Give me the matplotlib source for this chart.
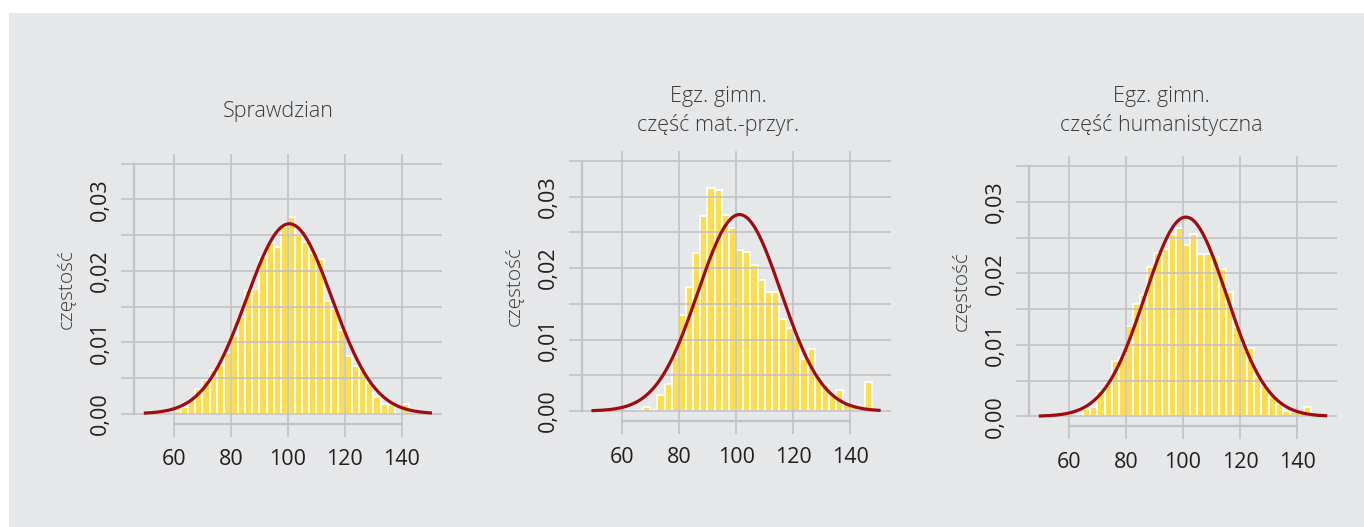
import numpy as np
import matplotlib
matplotlib.use("Agg")
import matplotlib.pyplot as plt
from matplotlib.patches import Rectangle
from matplotlib.ticker import MultipleLocator, FuncFormatter

plt.rcParams['font.family'] = ['Open Sans', 'DejaVu Sans']

# dane (gęstość w przedziałach co 2,5 pkt)
bin_width = 2.5

tytuly = ["Sprawdzian", "Egz. gimn.\nczęść mat.-przyr.", "Egz. gimn.\nczęść humanistyczna"]

start_spr = 60.0
dens_spr = [0.0004, 0.0010, 0.0021, 0.0035, 0.0047, 0.0061, 0.0068, 0.0085,
            0.0109, 0.0136, 0.0173, 0.0174, 0.0219, 0.0239, 0.0233, 0.0261,
            0.0276, 0.0250, 0.0241, 0.0225, 0.0216, 0.0158, 0.0146, 0.0117,
            0.0081, 0.0067, 0.0060, 0.0043, 0.0024, 0.0014, 0.0013, 0.0,
            0.0014]

start_mat = 65.0
dens_mat = [0.0002, 0.0005, 0.0002, 0.0022, 0.0038, 0.0076, 0.0134, 0.0174,
            0.0221, 0.0273, 0.0313, 0.0309, 0.0274, 0.0256, 0.0225, 0.0223,
            0.0205, 0.0183, 0.0167, 0.0167, 0.0129, 0.0116, 0.0099, 0.0073,
            0.0087, 0.0049, 0.0037, 0.0022, 0.0029, 0.0013, 0.0005, 0.0003,
            0.0040]

start_hum = 62.5
dens_hum = [0.0002, 0.0010, 0.0013, 0.0035, 0.0047, 0.0077, 0.0083, 0.0127,
            0.0157, 0.0170, 0.0209, 0.0229, 0.0235, 0.0255, 0.0264, 0.0240,
            0.0256, 0.0228, 0.0227, 0.0223, 0.0207, 0.0174, 0.0125, 0.0103,
            0.0096, 0.0055, 0.0042, 0.0028, 0.0017, 0.0007, 0.0006, 0.0006,
            0.0013]

# parametry krzywej normalnej (średnia, odchylenie)
srednie = [100.5, 101.2, 101.0]
odchylenia = [15.0, 14.5, 14.3]

starty = [start_spr, start_mat, start_hum]
gestosci = [dens_spr, dens_mat, dens_hum]

x_ticks = [60, 80, 100, 120, 140]

bg = '#e6e7e9'
grid_col = '#c1c2c4'
bar_col = '#ffdd4d'
line_col = '#a00b10'
txt = '#231f20'

fig = plt.figure(figsize=(13.64, 5.27), dpi=100, facecolor='white')
tlo = Rectangle((9 / 1364, 0), 1 - 9 / 1364, 514 / 527,
                transform=fig.transFigure, facecolor=bg,
                edgecolor='none', zorder=-10)
fig.add_artist(tlo)

pozycje = [
    [134 / 1364, (527 - 423.7) / 527, 307.8 / 1364, 269.9 / 527],
    [581.6 / 1364, (527 - 421.0) / 527, 308.9 / 1364, 269.9 / 527],
    [1029 / 1364, (527 - 426.3) / 527, 308.0 / 1364, 269.9 / 527],
]
title_x = [278, 718, 1161]
title_y = [112, 111, 111]

fmt = FuncFormatter(lambda v, p: f"{v:.2f}".replace('.', ','))

for i in range(3):
    ax = fig.add_axes(pozycje[i])
    ax.set_zorder(1)
    ax.set_facecolor('none')
    dens = gestosci[i]
    lefts = starty[i] + bin_width * np.arange(len(dens))
    ax.bar(lefts, dens, width=bin_width, align='edge', color=bar_col,
           edgecolor='white', linewidth=1.3, zorder=1)

    xs = np.linspace(50, 150, 400)
    mu, sd = srednie[i], odchylenia[i]
    ys = np.exp(-0.5 * ((xs - mu) / sd) ** 2) / (sd * np.sqrt(2 * np.pi))
    ax.plot(xs, ys, color=line_col, linewidth=2.3, zorder=3)

    ax.set_xlim(46, 154)
    ax.set_ylim(-0.0014, 0.0364)

    ax.xaxis.set_major_locator(plt.FixedLocator(x_ticks))
    ax.yaxis.set_major_locator(MultipleLocator(0.01))
    ax.yaxis.set_minor_locator(MultipleLocator(0.005))
    ax.yaxis.set_major_formatter(fmt)

    ax.set_axisbelow(False)
    ax.grid(True, which='major', color=grid_col, linewidth=1.2, zorder=2)
    ax.yaxis.grid(True, which='minor', color=grid_col, linewidth=1.2, zorder=2)

    for s in ['top', 'right']:
        ax.spines[s].set_visible(False)
    ax.spines['left'].set_bounds(0, 0.035)
    ax.spines['bottom'].set_bounds(60, 140)
    for s in ['left', 'bottom']:
        ax.spines[s].set_color(grid_col)
        ax.spines[s].set_linewidth(1.6)

    ax.tick_params(axis='both', which='both', length=9.5, width=1.2,
                   color=grid_col, labelcolor=txt, labelsize=15.5)
    ax.tick_params(axis='y', which='major', pad=7)
    ax.tick_params(axis='x', which='major', pad=9)
    for lab in ax.get_yticklabels():
        lab.set_rotation(90)
        lab.set_va('center')

    ax.set_ylabel("częstość", fontsize=15, color='#3a3a3a',
                  fontweight='light', labelpad=10)

    fig.text(title_x[i] / 1364, 1 - title_y[i] / 527, tytuly[i], ha='center',
             va='center', fontsize=15.5, color='#3a3a3a', fontweight='light',
             linespacing=1.4)

fig.savefig("out.png", dpi=100, facecolor=fig.get_facecolor())
